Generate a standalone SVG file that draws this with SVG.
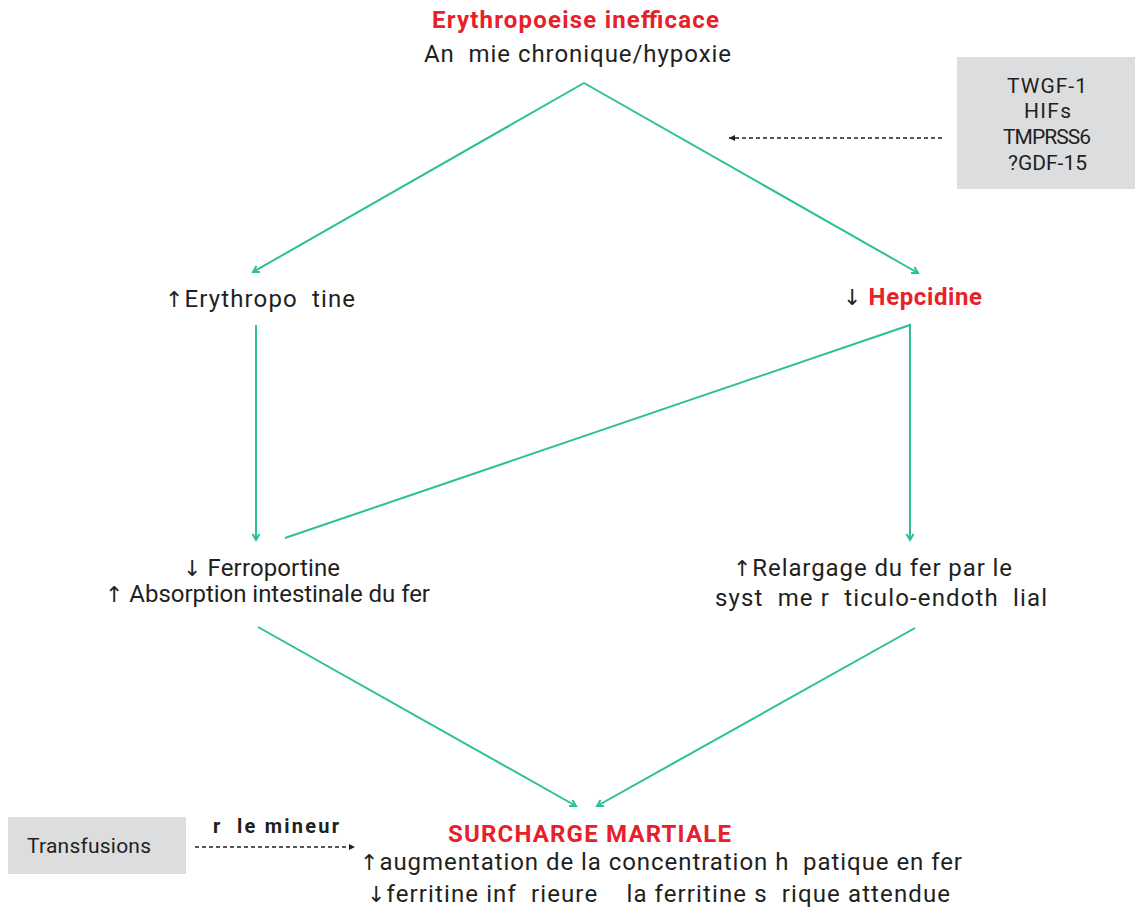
<svg xmlns="http://www.w3.org/2000/svg" width="1138" height="910" viewBox="0 0 1138 910">
<style>
text{font-family:"Roboto","Liberation Sans",sans-serif;fill:#231f20;white-space:pre}
.t{font-size:24px}
.red{fill:#e8202a;font-weight:bold}
.b{font-weight:bold}
.ar{font-family:"DejaVu Sans",sans-serif;font-size:22px;font-weight:normal;fill:#231f20}
.box{fill:#dcdddf}
.c{fill:none;stroke:#2bbf9a;stroke-width:2}
.d{fill:none;stroke:#231f20;stroke-width:1.3;stroke-dasharray:4 3}
</style>
<defs>
<marker id="ah" markerWidth="10" markerHeight="10" refX="7" refY="5" orient="auto" markerUnits="userSpaceOnUse">
<path d="M1,1.5 L7,5 L1,8.5" fill="none" stroke="#2bbf9a" stroke-width="2"/>
</marker>
<marker id="dk" markerWidth="8" markerHeight="8" refX="6" refY="4" orient="auto" markerUnits="userSpaceOnUse">
<path d="M0,1 L6,4 L0,7 Z" fill="#231f20"/>
</marker>
</defs>
<g id="connectors">
<path class="c" d="M584,83 L253,272" marker-end="url(#ah)"/>
<path class="c" d="M584,83 L918,273" marker-end="url(#ah)"/>
<path class="c" d="M256,325 L256,540" marker-end="url(#ah)"/>
<path class="c" d="M285,538 L910,325 L910,540" marker-end="url(#ah)"/>
<path class="c" d="M258,627 L576,806" marker-end="url(#ah)"/>
<path class="c" d="M915,628 L597,806" marker-end="url(#ah)"/>
<path class="d" d="M942,138 L729,138" marker-end="url(#dk)"/>
<path class="d" d="M195,847 L355,847" marker-end="url(#dk)"/>
</g>
<g id="n-erythropoeise">
<text class="t red" x="432" y="28" textLength="287">Erythropoeise inefficace</text>
<text class="t" x="424" y="62" textLength="307">An  mie chronique/hypoxie</text>
</g>
<g id="n-factors">
<rect class="box" x="957" y="57" width="178" height="132"/>
<text x="1007" y="93" font-size="21" textLength="80">TWGF-1</text>
<text x="1024" y="118" font-size="21" textLength="47">HIFs</text>
<text x="1003" y="144" font-size="21" textLength="88">TMPRSS6</text>
<text x="1008" y="170" font-size="21" textLength="79">?GDF-15</text>
</g>
<g id="n-erythropoetine">
<text class="t" x="165" y="307" textLength="190"><tspan class="ar">↑</tspan>Erythropo  tine</text>
</g>
<g id="n-hepcidine">
<text class="t" x="843" y="305" textLength="139"><tspan class="ar">↓</tspan> <tspan class="red">Hepcidine</tspan></text>
</g>
<g id="n-ferroportine">
<text class="t" x="183" y="576" textLength="157"><tspan class="ar">↓</tspan> Ferroportine</text>
<text class="t" x="105" y="602" textLength="325"><tspan class="ar">↑</tspan> Absorption intestinale du fer</text>
</g>
<g id="n-relargage">
<text class="t" x="733" y="576" textLength="279"><tspan class="ar">↑</tspan>Relargage du fer par le</text>
<text class="t" x="715" y="606" textLength="332">syst  me r  ticulo-endoth  lial</text>
</g>
<g id="n-transfusions">
<rect class="box" x="8" y="817" width="178" height="57"/>
<text x="27" y="853" font-size="21" textLength="124">Transfusions</text>
<text class="b" x="213" y="833" font-size="20" textLength="126">r  le mineur</text>
</g>
<g id="n-surcharge">
<text class="t red" x="448" y="842" textLength="283">SURCHARGE MARTIALE</text>
<text class="t" x="360" y="870" textLength="602"><tspan class="ar">↑</tspan>augmentation de la concentration h  patique en fer</text>
<text class="t" x="367" y="902" textLength="583"><tspan class="ar">↓</tspan>ferritine inf  rieure    la ferritine s  rique attendue</text>
</g>
</svg>
